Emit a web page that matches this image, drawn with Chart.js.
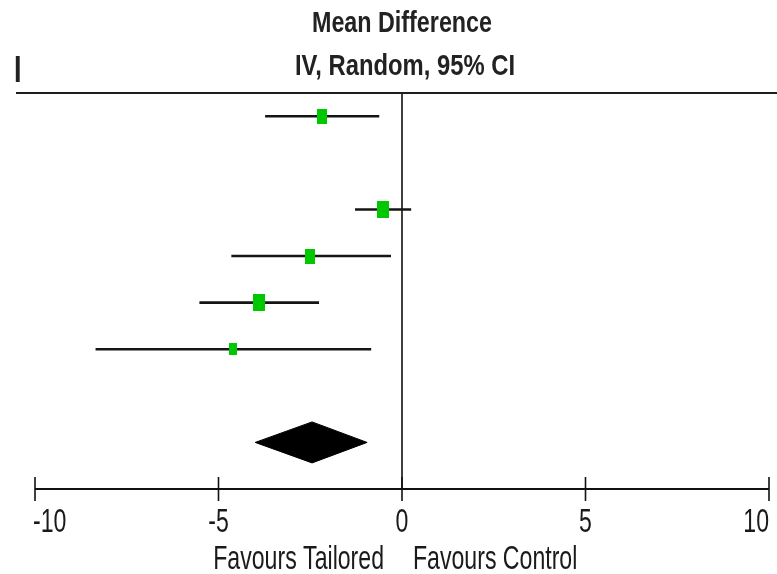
<!DOCTYPE html>
<html>
<head>
<meta charset="utf-8">
<script src="https://cdn.jsdelivr.net/npm/chart.js@4/dist/chart.umd.min.js"></script>
<style>
  html, body { margin: 0; padding: 0; background: #ffffff; }
  #wrap { width: 777px; height: 574px; position: relative; }
</style>
</head>
<body>
<div id="wrap"><canvas id="c" width="777" height="574"></canvas></div>
<script>
// ---- data ----
const studyRows  = [0, 2, 3, 4, 5];
const meanDiff   = [-2.18, -0.51, -2.50, -3.89, -4.60];
const ciLower    = [-3.73, -1.28, -4.65, -5.52, -8.35];
const ciUpper    = [-0.62, 0.25, -0.30, -2.26, -0.84];
const weights    = [17.5, 26, 18.5, 26, 12];
const pooledRow   = 7;
const pooledMD    = -2.45;
const pooledLower = -4.00;
const pooledUpper = -0.95;
const tickValues = [-10, -5, 0, 5, 10];
const tickLabels = ['-10', '-5', '0', '5', '10'];
const headerTitle = 'Mean Difference';
const headerSub   = 'IV, Random, 95% CI';
const favLeft  = 'Favours Tailored';
const favRight = 'Favours Control';

// ---- styles ----
const GREEN = '#00c800';
const FONT = '"Liberation Sans", Arial, "DejaVu Sans", sans-serif';

function makeMarker(w) {
  const bw = Math.round(2.35 * Math.sqrt(w));
  const bh = Math.round(bw * 1.45);
  const cv = document.createElement('canvas');
  cv.width = bw; cv.height = bh;
  const g = cv.getContext('2d');
  g.fillStyle = GREEN;
  g.fillRect(0, 0, bw, bh);
  return cv;
}

const datasets = [];
// zero line
datasets.push({
  data: [{x: 0, y: -0.5}, {x: 0, y: 8}],
  showLine: true, borderColor: '#000', borderWidth: 1.5,
  pointRadius: 0, clip: false, order: 5
});
// CI lines
studyRows.forEach((r, i) => {
  datasets.push({
    data: [{x: ciLower[i], y: r}, {x: ciUpper[i], y: r}],
    showLine: true, borderColor: '#151515', borderWidth: 2.6,
    pointRadius: 0, clip: false, order: 3
  });
});
// study markers
datasets.push({
  data: studyRows.map((r, i) => ({x: meanDiff[i], y: r})),
  showLine: false,
  pointStyle: weights.map(makeMarker),
  pointRadius: 6, clip: false, order: 1
});
// pooled diamond
const dh = 0.44;
datasets.push({
  data: [
    {x: pooledLower, y: pooledRow},
    {x: pooledMD, y: pooledRow - dh},
    {x: pooledUpper, y: pooledRow},
    {x: pooledMD, y: pooledRow + dh},
    {x: pooledLower, y: pooledRow}
  ],
  showLine: true, borderColor: '#000', borderWidth: 1,
  backgroundColor: '#000', fill: 'shape', tension: 0,
  pointRadius: 0, clip: false, order: 2
});

function narrowText(ctx, text, x, y, font, sx, align, color) {
  ctx.save();
  ctx.font = font;
  ctx.fillStyle = color || '#1a1a1a';
  ctx.textAlign = align;
  ctx.textBaseline = 'alphabetic';
  ctx.translate(x, y);
  ctx.scale(sx, 1);
  ctx.fillText(text, 0, 0);
  ctx.restore();
}
function fitText(ctx, text, cx, y, font, width, color) {
  ctx.save();
  ctx.font = font;
  const m = ctx.measureText(text).width;
  ctx.restore();
  narrowText(ctx, text, cx, y, font, width / m, 'center', color);
}

const decor = {
  id: 'decor',
  afterDraw(chart) {
    const ctx = chart.ctx;
    const xs = chart.scales.x;
    const ys = chart.scales.y;
    // headers
    fitText(ctx, headerTitle, 402, 32, 'bold 29px ' + FONT, 180, '#222');
    fitText(ctx, headerSub, 405, 75, 'bold 30px ' + FONT, 220, '#222');
    narrowText(ctx, 'I', 14, 82, 'bold 36px ' + FONT, 0.75, 'left', '#222');
    // top rule
    const topY = ys.getPixelForValue(-0.5);
    ctx.save();
    ctx.strokeStyle = '#1e1e1e';
    ctx.lineWidth = 2;
    ctx.beginPath();
    ctx.moveTo(16, topY); ctx.lineTo(777, topY);
    ctx.stroke();
    // x axis
    const axY = ys.getPixelForValue(8);
    ctx.strokeStyle = '#111';
    ctx.lineWidth = 2;
    ctx.beginPath();
    ctx.moveTo(xs.getPixelForValue(tickValues[0]), axY);
    ctx.lineTo(xs.getPixelForValue(tickValues[tickValues.length - 1]), axY);
    ctx.stroke();
    ctx.lineWidth = 1.6;
    tickValues.forEach((v, i) => {
      const px = xs.getPixelForValue(v);
      ctx.beginPath();
      ctx.moveTo(px, axY - 12); ctx.lineTo(px, axY + 12);
      ctx.stroke();
      const align = i === 0 ? 'left' : (i === tickValues.length - 1 ? 'right' : 'center');
      narrowText(ctx, tickLabels[i], px + (i === 0 ? -2 : 0), 532, '33px ' + FONT, 0.7, align, '#1a1a1a');
    });
    ctx.restore();
    const zx = xs.getPixelForValue(0);
    narrowText(ctx, favLeft, zx - 18, 569, '33px ' + FONT, 0.7, 'right', '#1a1a1a');
    narrowText(ctx, favRight, zx + 11, 569, '33px ' + FONT, 0.7, 'left', '#1a1a1a');
  }
};

new Chart(document.getElementById('c'), {
  type: 'scatter',
  data: { datasets },
  plugins: [decor],
  options: {
    responsive: false,
    animation: false,
    events: [],
    layout: { padding: { left: 35, right: 8, top: 93, bottom: 85 } },
    plugins: { legend: { display: false }, tooltip: { enabled: false } },
    scales: {
      x: { type: 'linear', min: -10, max: 10, display: false, ticks: { stepSize: 5 } },
      y: { type: 'linear', min: -0.5, max: 8, reverse: true, display: false }
    }
  }
});
</script>
</body>
</html>
